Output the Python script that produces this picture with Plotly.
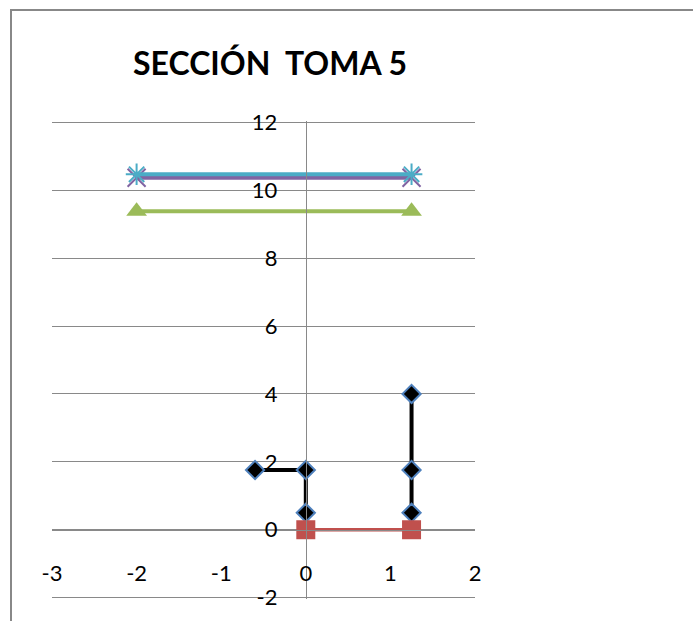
import plotly.graph_objects as go

# Section survey data (x: horizontal offset in m, y: elevation in m)
estructura_x = [-0.6, 0.0, 0.0, None, 1.25, 1.25, 1.25]
estructura_y = [1.76, 1.76, 0.5, None, 0.5, 1.76, 4.0]

fondo_x = [0.0, 1.25]
fondo_y = [0.0, 0.0]

nivel_min_x = [-2.0, 1.25]
nivel_min_y = [9.38, 9.38]

nivel_med_x = [-2.0, 1.25]
nivel_med_y = [10.37, 10.37]

nivel_max_x = [-2.0, 1.25]
nivel_max_y = [10.47, 10.47]

x_ticks = [-3, -2, -1, 0, 1, 2]
y_ticks = [-2, 0, 2, 4, 6, 8, 10, 12]

W, H = 693, 621
L, R, T, B = 52, 218, 121, 22

fig = go.Figure()

fig.add_trace(go.Scatter(
    x=estructura_x, y=estructura_y, mode="lines+markers",
    line=dict(color="black", width=4),
    marker=dict(symbol="diamond", size=14, color="black",
                line=dict(color="#4F81BD", width=2)),
    connectgaps=False, name="Estructura"))

fig.add_trace(go.Scatter(
    x=fondo_x, y=fondo_y, mode="lines+markers",
    line=dict(color="#C0504D", width=3.5),
    marker=dict(symbol="square", size=19, color="#C0504D"),
    name="Fondo"))

fig.add_trace(go.Scatter(
    x=nivel_min_x, y=nivel_min_y, mode="lines+markers",
    line=dict(color="#9BBB59", width=4),
    marker=dict(symbol="triangle-up", size=18, color="#9BBB59"),
    name="Nivel mínimo"))

fig.add_trace(go.Scatter(
    x=nivel_med_x, y=nivel_med_y, mode="lines+markers",
    line=dict(color="#8064A2", width=4),
    marker=dict(symbol="x-thin-open", size=18,
                line=dict(color="#8064A2", width=2)),
    name="Nivel medio"))

fig.add_trace(go.Scatter(
    x=nivel_max_x, y=nivel_max_y, mode="lines+markers",
    line=dict(color="#4BACC6", width=4),
    marker=dict(symbol="asterisk-open", size=18,
                line=dict(color="#4BACC6", width=2)),
    name="Nivel máximo"))

x_min, x_max = x_ticks[0], x_ticks[-1]
y_min, y_max = y_ticks[0], y_ticks[-1]
eps = 0.04  # keeps the end gridlines far enough inside the range to be drawn

tick_font = dict(family="Lato, Open Sans, sans-serif", size=22, color="black")

fig.update_layout(
    width=W, height=H,
    margin=dict(l=L, r=R, t=T, b=B, pad=0),
    paper_bgcolor="white", plot_bgcolor="white",
    showlegend=False,
    font=dict(family="Lato, Open Sans, sans-serif", color="black", size=22),
    title=dict(text="<b>SECCIÓN  TOMA 5</b>", xref="container", x=270 / W,
               xanchor="center", yref="container", y=1 - 64 / H,
               yanchor="middle",
               font=dict(family="Lato, sans-serif", size=32, color="black")),
    xaxis=dict(range=[x_min, x_max], tickvals=x_ticks,
               ticktext=[str(v) for v in x_ticks], tickfont=tick_font,
               showgrid=False, zeroline=False, showline=True,
               linecolor="#898989", linewidth=1, anchor="free",
               position=(0 - y_min + eps) / (y_max - y_min + 2 * eps),
               ticks="", ticklabelstandoff=24, fixedrange=True),
    yaxis=dict(range=[y_min - eps, y_max + eps], tickvals=y_ticks,
               ticktext=[str(v) for v in y_ticks], tickfont=tick_font,
               showgrid=True, gridcolor="#898989", gridwidth=1,
               zeroline=False, showline=True, linecolor="#898989",
               linewidth=1, anchor="free",
               position=(0 - x_min) / (x_max - x_min),
               ticks="", ticklabelstandoff=24, fixedrange=True),
)

# Outer chart frame (left and top edges visible)
fig.add_shape(type="rect", xref="paper", yref="paper",
              x0=(11 - L) / (W - L - R), x1=(W + 20 - L) / (W - L - R),
              y0=-(B + 20) / (H - T - B), y1=(H - B - 10) / (H - T - B),
              line=dict(color="#888888", width=2), fillcolor="rgba(0,0,0,0)",
              layer="below")

fig.write_html("out.html")
